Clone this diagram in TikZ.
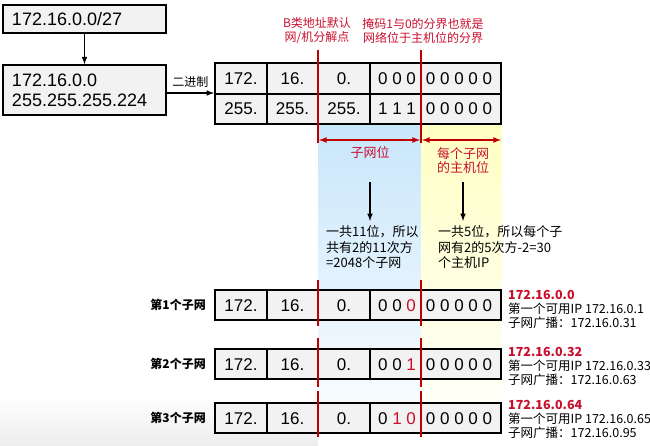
\documentclass[tikz,border=0pt]{standalone}
\usepackage{fontspec}
\setmainfont{Liberation Sans}
\newfontfamily\cjk{Noto Sans CJK SC}
\usetikzlibrary{positioning, arrows}
\definecolor{cellgray}{HTML}{F2F2F2}
\definecolor{linered}{HTML}{C00000}
\definecolor{textred}{HTML}{C8102E}
\definecolor{subblue}{HTML}{C8E6FB}
\definecolor{hostyellow}{HTML}{FFFFC4}
\tikzset{
  box/.style={draw, line width=1.5pt, fill=cellgray, minimum width=163, text width=145, inner xsep=9, align=left, font=\fontsize{18}{20}\selectfont},
  cell/.style={draw, line width=1.5pt, fill=cellgray, minimum height=30, inner sep=0, text height=12, text depth=0, font=\fontsize{17}{17}\selectfont},
  bits/.style={inner sep=0, text height=12, text depth=0, font=\fontsize{17}{17}\selectfont},
  note/.style={anchor=west, inner sep=0, align=left, font=\cjk\fontsize{12.5}{14}\selectfont},
  expl/.style={anchor=west, inner sep=0, align=left, font=\cjk\fontsize{13}{15.5}\selectfont},
  rednote/.style={inner sep=0, align=center, text=textred, font=\cjk\fontsize{13}{14.5}\selectfont},
  topnote/.style={rednote, font=\cjk\fontsize{12}{14}\selectfont},
  rowlabel/.style={anchor=east, inner sep=0, font=\cjk\bfseries\fontsize{12}{12}\selectfont},
  redline/.style={draw=linered, line width=1.6pt},
  dim/.style={redline, latex-latex},
  arrow/.style={-latex, line width=1.5pt},
}
\begin{document}
\begin{tikzpicture}[x=1pt, y=-1pt]
\useasboundingbox (0,0) rectangle (650,446);
\shade[top color=white, bottom color=black!7] (0,395) rectangle (318,446);
\shade[top color=subblue, bottom color=white] (318,124) rectangle (421,446);
\shade[top color=hostyellow, bottom color=white] (421,124) rectangle (502,446);

\node[box, minimum height=28](ip) at (84.5,19) {172.16.0.0/27};
\node[box, minimum height=50](mask) at (84.5,90) {172.16.0.0\\255.255.255.224};

\node[cell, minimum width=52, minimum height=30.5](a1) at (241,78.5) {172.};
\node[cell, minimum width=51, minimum height=30.5](a2) at (292.5,78.5) {16.};
\node[cell, minimum width=52, minimum height=30.5](a3) at (344,78.5) {0.};
\node[cell, minimum width=131, minimum height=30.5](a4) at (435.5,78.5) {};
\node[bits](a5) at (397,78.5) {0 0 0};
\node[bits](a6) at (459,78.5) {0 0 0 0 0};
\node[cell, minimum width=52](b1) at (241,109) {255.};
\node[cell, minimum width=51](b2) at (292.5,109) {255.};
\node[cell, minimum width=52](b3) at (344,109) {255.};
\node[cell, minimum width=131](b4) at (435.5,109) {};
\node[bits](b5) at (397,109) {1 1 1};
\node[bits](b6) at (459,109) {0 0 0 0 0};

\node[topnote](m1) at (317,31) {B类地址默认\\网/机分解点};
\node[topnote](m2) at (423,31) {掩码1与0的分界也就是\\网络位于主机位的分界};
\node[rednote](sub) at (370,153) {子网位};
\node[rednote](host) at (463,160.5) {每个子网\\的主机位};
\node[expl](subtxt) at (326,247.5) {一共11位，所以\\共有2的11次方\\=2048个子网};
\node[expl](hosttxt) at (438,247.5) {一共5位，所以每个子\\网有2的5次方-2=30\\个主机IP};

\node[rowlabel](L1) at (206,305) {第1个子网};
\node[cell, minimum width=52](c11) at (241,305) {172.};
\node[cell, minimum width=51](c12) at (292.5,305) {16.};
\node[cell, minimum width=52](c13) at (344,305) {0.};
\node[cell, minimum width=131](c14) at (435.5,305) {};
\node[bits](c15) at (397,305) {0 0 \textcolor{textred}{0}};
\node[bits](c16) at (459,305) {0 0 0 0 0};
\node[note](n1) at (508,309) {{\color{textred}\bfseries 172.16.0.0}\\第一个可用IP 172.16.0.1\\子网广播：172.16.0.31};

\node[rowlabel](L2) at (206,364) {第2个子网};
\node[cell, minimum width=52](c21) at (241,364) {172.};
\node[cell, minimum width=51](c22) at (292.5,364) {16.};
\node[cell, minimum width=52](c23) at (344,364) {0.};
\node[cell, minimum width=131](c24) at (435.5,364) {};
\node[bits](c25) at (397,364) {0 0 \textcolor{textred}{1}};
\node[bits](c26) at (459,364) {0 0 0 0 0};
\node[note](n2) at (508,366) {{\color{textred}\bfseries 172.16.0.32}\\第一个可用IP 172.16.0.33\\子网广播：172.16.0.63};

\node[rowlabel](L3) at (206,418) {第3个子网};
\node[cell, minimum width=52](c31) at (241,418) {172.};
\node[cell, minimum width=51](c32) at (292.5,418) {16.};
\node[cell, minimum width=52](c33) at (344,418) {0.};
\node[cell, minimum width=131](c34) at (435.5,418) {};
\node[bits](c35) at (397,418) {0 \textcolor{textred}{1 0}};
\node[bits](c36) at (459,418) {0 0 0 0 0};
\node[note](n3) at (508,419) {{\color{textred}\bfseries 172.16.0.64}\\第一个可用IP 172.16.0.65\\子网广播：172.16.0.95};

\coordinate(bin) at (214,93);
\coordinate(subtop) at (370,182);
\coordinate(subend) at (370,221);
\coordinate(hosttop) at (463,182);
\coordinate(hostend) at (463,221);

\path[arrow](ip)edge(mask);
\path[arrow](mask.east |- bin)edge node[above=5pt, inner sep=0, font=\cjk\fontsize{12}{12}\selectfont]{二进制}(bin);
\path[arrow](subtop)edge(subend);
\path[arrow](hosttop)edge(hostend);

\draw[redline] (318,50) -- (318,143);
\draw[redline] (421,50) -- (421,143);
\draw[dim] (319,140) -- (420,140);
\draw[dim] (422,140) -- (501,140);
\draw[redline] (318,280) -- (318,326);
\draw[redline] (421,280) -- (421,326);
\draw[redline] (318,338) -- (318,387);
\draw[redline] (421,338) -- (421,387);
\draw[redline] (318,391) -- (318,437);
\draw[redline] (421,391) -- (421,437);
\end{tikzpicture}
\end{document}
